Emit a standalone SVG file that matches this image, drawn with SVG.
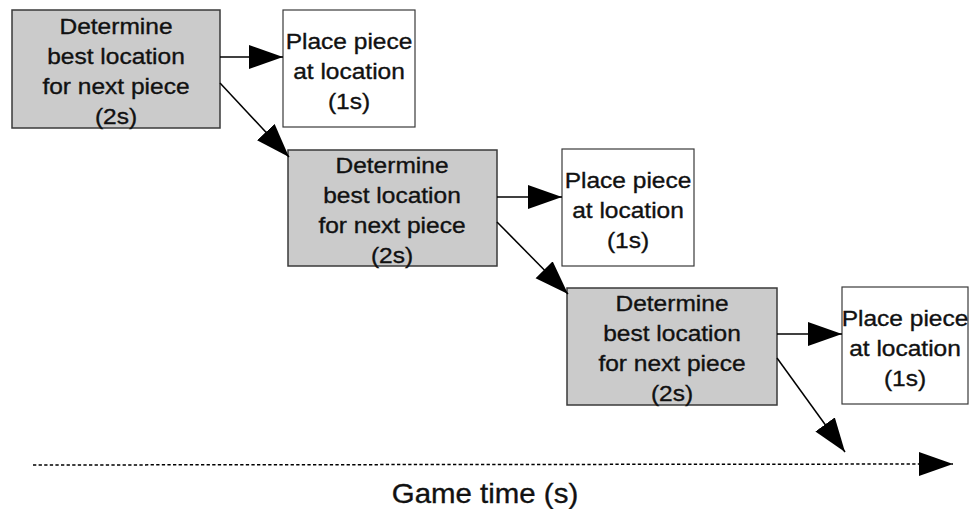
<svg xmlns="http://www.w3.org/2000/svg" width="972" height="509" viewBox="0 0 972 509">
<defs>
<marker id="ah" markerUnits="userSpaceOnUse" markerWidth="36" markerHeight="26" refX="34" refY="12" orient="auto">
<path d="M0,0 L34,12 L0,24 z" fill="#000"/>
</marker>
</defs>
<style>
.g{fill:#cbcbcb;stroke:#3a3a3a;stroke-width:1.5}
.w{fill:#fff;stroke:#3a3a3a;stroke-width:1.2}
.t{font-family:"Liberation Sans",Arial,sans-serif;font-size:22.5px;fill:#111;stroke:#111;stroke-width:0.35;text-anchor:middle}
.c{stroke:#000;stroke-width:1.5;fill:none}
</style>
<rect width="972" height="509" fill="#fff"/>
<g id="det1">
<rect class="g" x="12" y="10" width="208" height="118"/>
<g transform="translate(116,0) scale(1.09,1)">
<text class="t" x="0" y="34">Determine</text>
<text class="t" x="0" y="64">best location</text>
<text class="t" x="0" y="94">for next piece</text>
<text class="t" x="0" y="124">(2s)</text>
</g>
</g>
<g id="place1">
<rect class="w" x="283" y="10" width="132" height="117"/>
<g transform="translate(349,0) scale(1.09,1)">
<text class="t" x="0" y="49">Place piece</text>
<text class="t" x="0" y="79">at location</text>
<text class="t" x="0" y="109">(1s)</text>
</g>
</g>
<g id="det2">
<rect class="g" x="288" y="150" width="209" height="116"/>
<g transform="translate(392,0) scale(1.09,1)">
<text class="t" x="0" y="173">Determine</text>
<text class="t" x="0" y="203">best location</text>
<text class="t" x="0" y="233">for next piece</text>
<text class="t" x="0" y="263">(2s)</text>
</g>
</g>
<g id="place2">
<rect class="w" x="562" y="149" width="132" height="117"/>
<g transform="translate(628,0) scale(1.09,1)">
<text class="t" x="0" y="188">Place piece</text>
<text class="t" x="0" y="218">at location</text>
<text class="t" x="0" y="248">(1s)</text>
</g>
</g>
<g id="det3">
<rect class="g" x="567" y="288" width="210" height="117"/>
<g transform="translate(672,0) scale(1.09,1)">
<text class="t" x="0" y="311">Determine</text>
<text class="t" x="0" y="341">best location</text>
<text class="t" x="0" y="371">for next piece</text>
<text class="t" x="0" y="401">(2s)</text>
</g>
</g>
<g id="place3">
<rect class="w" x="842" y="287" width="126" height="117"/>
<g transform="translate(905,0) scale(1.09,1)">
<text class="t" x="0" y="326">Place piece</text>
<text class="t" x="0" y="356">at location</text>
<text class="t" x="0" y="386">(1s)</text>
</g>
</g>
<g id="connectors">
<line class="c" x1="220" y1="57" x2="283" y2="57" marker-end="url(#ah)"/>
<line class="c" x1="220" y1="83" x2="289" y2="157" marker-end="url(#ah)"/>
<line class="c" x1="497" y1="197" x2="562" y2="197" marker-end="url(#ah)"/>
<line class="c" x1="497" y1="222" x2="568" y2="294" marker-end="url(#ah)"/>
<line class="c" x1="777" y1="334" x2="842" y2="334" marker-end="url(#ah)"/>
<line class="c" x1="777" y1="358" x2="845" y2="452" marker-end="url(#ah)"/>
<line x1="33" y1="465" x2="953" y2="464" stroke="#000" stroke-width="1.5" stroke-dasharray="3.3,2.3" marker-end="url(#ah)"/>
</g>
<g transform="translate(485,0) scale(1.09,1)">
<text class="t" x="0" y="503" style="font-size:27px">Game time (s)</text>
</g>
</svg>
